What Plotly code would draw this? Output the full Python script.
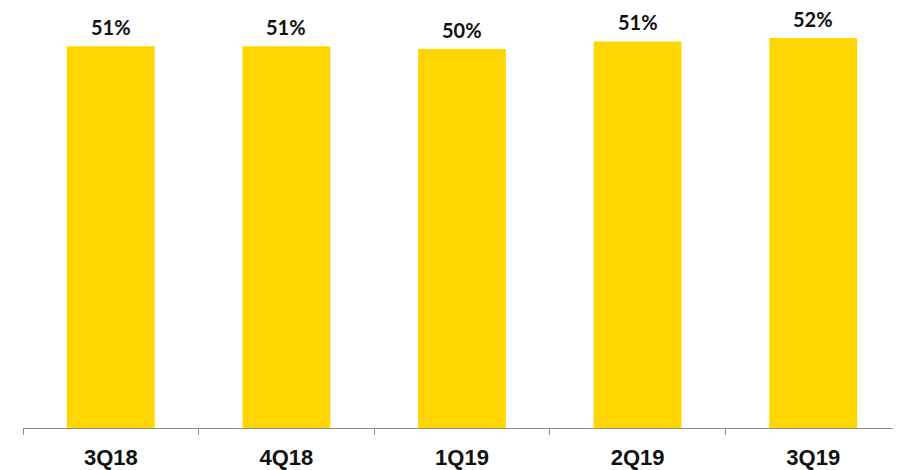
import plotly.graph_objects as go

# Quarterly share values (%)
quarters = ["3Q18", "4Q18", "1Q19", "2Q19", "3Q19"]
share_pct = [50.8, 50.8, 50.45, 51.45, 51.9]

bar_color = "#FFD600"

fig = go.Figure()

fig.add_trace(
    go.Bar(
        x=quarters,
        y=share_pct,
        width=0.5,
        marker=dict(color=bar_color, line=dict(width=0)),
        hovertemplate="%{x}: %{y:.0f}%<extra></extra>",
    )
)

# Value labels above the bars
for q, v in zip(quarters, share_pct):
    fig.add_annotation(
        x=q,
        y=v,
        text=f"<b>{v:.0f}%</b>",
        showarrow=False,
        yanchor="bottom",
        yshift=6,
        borderpad=0,
        font=dict(family="Lato, Arial, sans-serif", size=20, color="#111111"),
    )

# page has an 8px body margin, so the figure is a bit smaller than the window
fig.update_layout(
    width=893,
    height=462,
    margin=dict(l=15, r=0, t=0, b=40),
    plot_bgcolor="white",
    paper_bgcolor="white",
    showlegend=False,
    bargap=0.5,
)

fig.update_xaxes(
    showline=True,
    linecolor="#8c8c8c",
    linewidth=1,
    ticks="outside",
    tickson="boundaries",
    ticklen=6,
    tickcolor="#8c8c8c",
    tickfont=dict(family="Liberation Sans, Arial, sans-serif", size=22, color="#111111"),
    ticklabelstandoff=10,
    tickprefix="<b>",
    ticksuffix="</b>",
    showgrid=False,
)

fig.update_yaxes(
    range=[0, 55.9],
    visible=False,
    showgrid=False,
    zeroline=False,
)

fig.write_html("out.html")
